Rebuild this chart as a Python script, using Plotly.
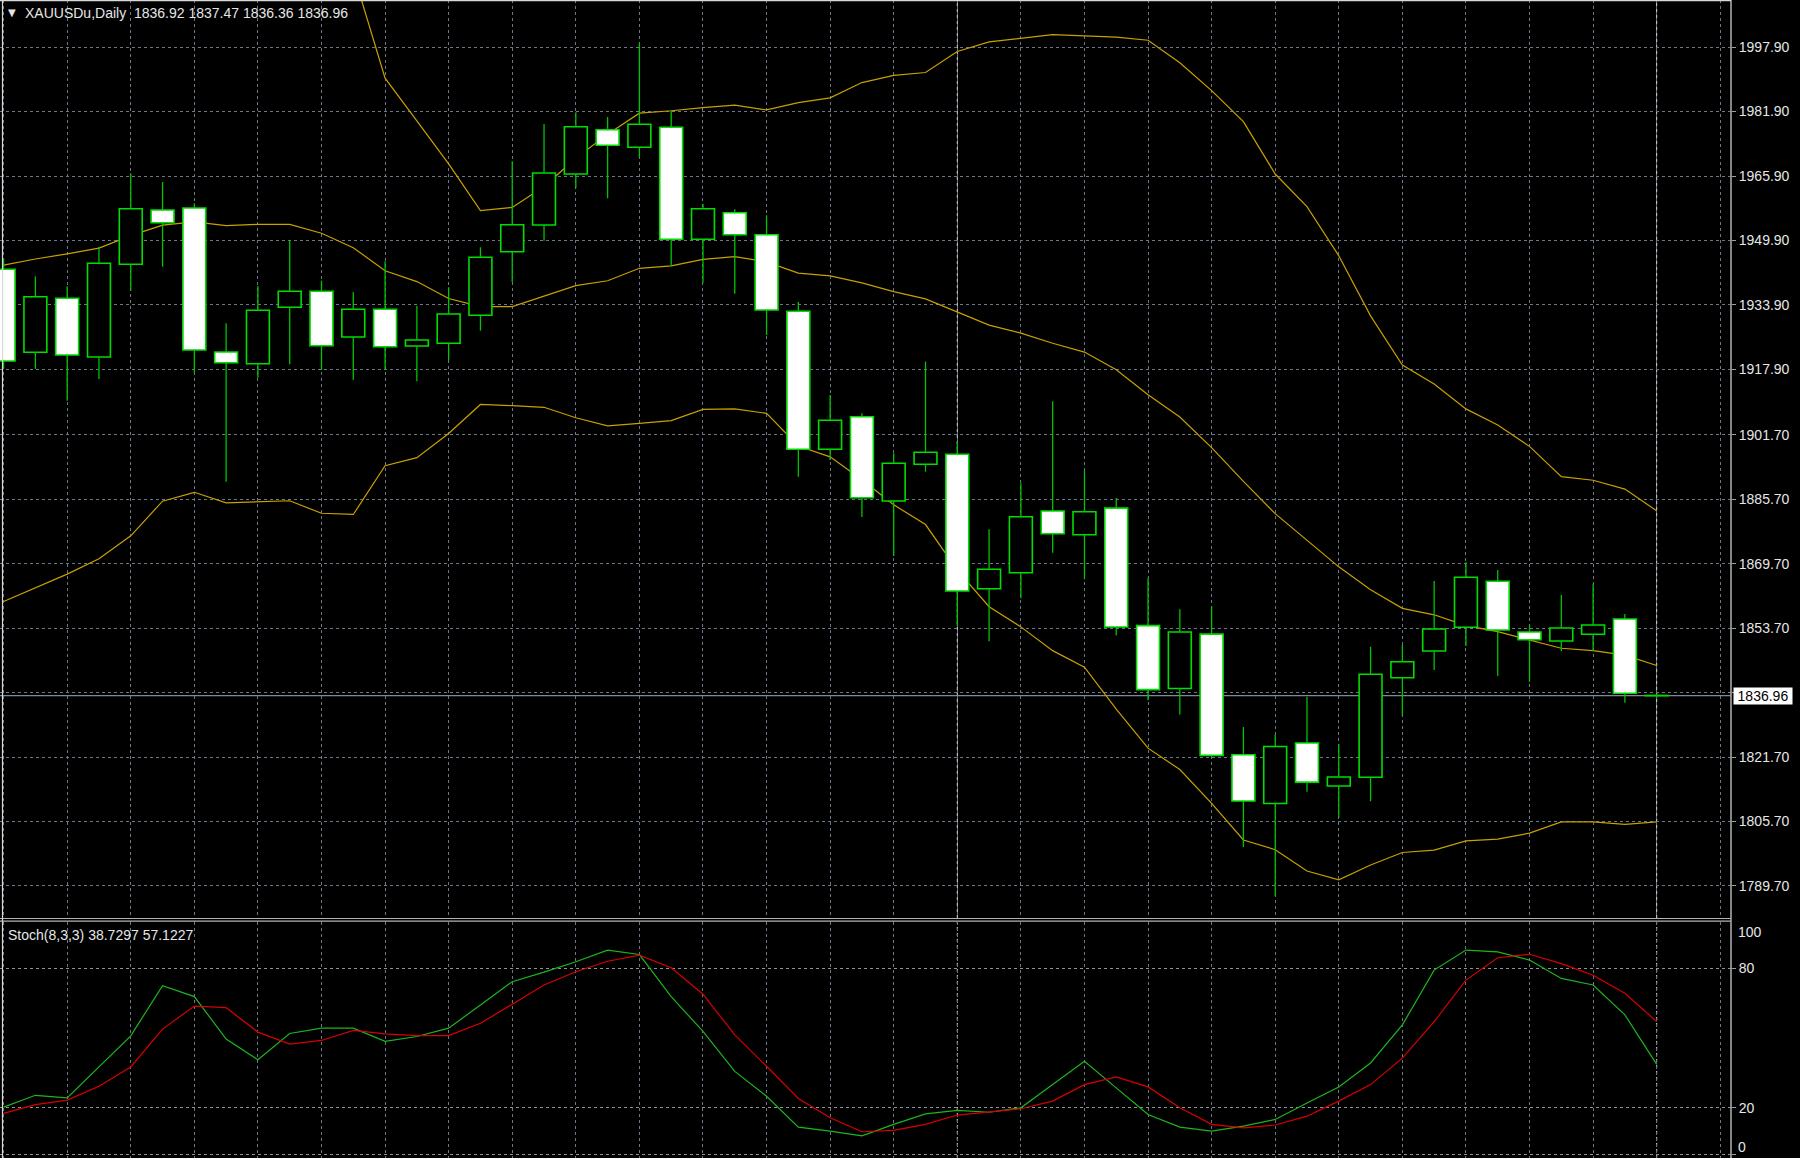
import plotly.graph_objects as go

# ---------------- data ----------------
opens = [1942.75, 1922.15, 1935.55, 1920.98, 1943.99, 1957.47, 1957.96, 1922.22, 1919.32, 1933.32,
         1937.29, 1925.95, 1932.82, 1923.71, 1924.38, 1931.33, 1947.12, 1953.75, 1966.40, 1977.40,
         1973.03, 1977.99, 1950.20, 1956.80, 1951.34, 1932.33, 1898.07, 1906.17, 1885.24, 1894.35,
         1896.83, 1863.47, 1867.45, 1882.76, 1876.88, 1883.48, 1854.32, 1838.70, 1852.21, 1822.27,
         1810.16, 1825.18, 1814.50, 1816.66, 1841.38, 1848.01, 1853.89, 1865.31, 1852.73, 1850.49,
         1852.16, 1855.95, 1836.92]
highs = [1945.48, 1941.00, 1938.53, 1948.36, 1966.58, 1964.42, 1959.13, 1929.35, 1938.60, 1950.02,
         1939.92, 1937.12, 1944.74, 1933.64, 1938.28, 1948.21, 1969.56, 1978.81, 1981.72, 1980.55,
         1998.99, 1982.11, 1958.96, 1957.64, 1956.15, 1934.63, 1911.55, 1907.01, 1897.08, 1919.84,
         1899.96, 1878.22, 1889.64, 1909.99, 1892.69, 1885.96, 1866.08, 1858.39, 1859.11, 1829.15,
         1827.31, 1836.67, 1824.85, 1849.08, 1849.50, 1865.39, 1870.03, 1868.12, 1854.47, 1861.91,
         1864.57, 1857.20, 1837.47]
lows = [1918.18, 1918.00, 1910.14, 1915.52, 1937.44, 1943.40, 1917.09, 1890.03, 1915.85, 1919.17,
        1917.76, 1915.27, 1917.76, 1914.95, 1920.24, 1927.51, 1939.60, 1949.85, 1962.85, 1960.37,
        1970.55, 1943.64, 1939.42, 1936.69, 1926.44, 1891.27, 1895.42, 1881.27, 1871.59, 1892.51,
        1854.22, 1850.42, 1861.09, 1872.41, 1865.81, 1851.86, 1835.78, 1832.25, 1821.50, 1799.39,
        1787.20, 1813.09, 1806.69, 1810.71, 1831.88, 1843.30, 1849.25, 1841.81, 1840.39, 1848.01,
        1848.01, 1835.18, 1836.36]
closes = [1919.99, 1935.95, 1921.48, 1944.24, 1957.79, 1954.32, 1922.72, 1919.57, 1932.57, 1937.29,
          1923.79, 1932.82, 1923.54, 1925.20, 1931.66, 1945.73, 1953.82, 1966.65, 1978.14, 1973.53,
          1978.74, 1950.20, 1957.79, 1951.34, 1932.65, 1898.07, 1905.27, 1886.06, 1894.60, 1897.33,
          1862.90, 1868.29, 1881.35, 1877.13, 1882.59, 1853.97, 1838.43, 1852.73, 1822.10, 1810.78,
          1824.31, 1815.47, 1816.74, 1842.23, 1845.36, 1853.47, 1866.30, 1853.22, 1850.82, 1853.72,
          1854.47, 1837.51, 1836.96]

bb_upper = [None, None, None, None, None, None, None, None, None, None,
            None, 2016.3, 1990.2, 1979.6, 1968.9, 1957.3, 1958.1, 1963.3, 1970.3, 1976.3,
            1981.5, 1982.1, 1982.9, 1983.5, 1982.3, 1984.1, 1985.3, 1989.1, 1990.9, 1991.6,
            1996.8, 1999.2, 2000.1, 2001.0, 2000.7, 2000.4, 1999.6, 1994.0, 1987.1, 1979.4,
            1966.4, 1958.3, 1946.1, 1931.2, 1919.0, 1914.3, 1908.1, 1904.1, 1898.8, 1891.3,
            1890.4, 1888.2, 1882.8]
bb_middle = [1943.8, 1945.3, 1946.6, 1948.0, 1951.1, 1953.7, 1954.5, 1953.6, 1953.9, 1953.9,
             1951.7, 1948.1, 1942.4, 1939.7, 1935.5, 1933.5, 1933.5, 1936.1, 1938.7, 1939.9,
             1943.0, 1943.6, 1945.2, 1945.9, 1944.6, 1941.8, 1941.1, 1939.4, 1937.2, 1935.4,
             1932.2, 1928.9, 1926.9, 1924.4, 1922.2, 1917.8, 1911.6, 1906.1, 1898.5, 1890.1,
             1882.1, 1875.5, 1868.9, 1863.2, 1858.6, 1857.0, 1854.3, 1852.8, 1850.7, 1848.7,
             1848.1, 1847.0, 1844.4]
bb_lower = [1860.3, 1863.7, 1867.1, 1870.9, 1876.6, 1885.2, 1887.4, 1884.8, 1885.1, 1885.3,
            1882.2, 1881.9, 1894.0, 1896.0, 1902.0, 1909.2, 1908.9, 1908.5, 1905.9, 1903.9,
            1904.5, 1905.2, 1908.0, 1908.1, 1907.0, 1898.9, 1896.2, 1890.5, 1884.3, 1879.4,
            1868.1, 1859.0, 1854.0, 1848.1, 1844.0, 1833.6, 1823.9, 1818.6, 1810.2, 1801.1,
            1798.7, 1793.4, 1791.2, 1794.9, 1798.0, 1798.6, 1800.9, 1801.3, 1802.8, 1805.6,
            1805.6, 1805.0, 1805.6]

stoch_main = [20.3, 25.4, 24.3, 37.5, 51.0, 72.6, 67.9, 49.6, 40.7, 52.0,
              54.3, 54.3, 48.6, 50.7, 54.3, 64.3, 74.3, 78.4, 82.9, 87.9,
              86.0, 67.9, 52.9, 35.7, 25.0, 11.7, 10.0, 7.9, 12.9, 17.4,
              18.9, 18.1, 20.0, 30.0, 40.0, 28.6, 17.1, 11.7, 10.0, 12.1,
              15.0, 22.1, 29.0, 39.3, 55.7, 79.3, 87.9, 87.1, 83.6, 75.7,
              72.9, 60.0, 38.7297]
stoch_signal = [17.6, 21.4, 23.3, 29.3, 37.6, 53.9, 63.8, 63.1, 52.6, 47.4,
                49.0, 53.3, 51.8, 51.1, 51.1, 56.4, 64.6, 72.9, 78.6, 83.1,
                85.7, 80.3, 68.9, 51.4, 37.9, 24.0, 15.7, 9.7, 10.3, 12.9,
                16.9, 18.3, 19.6, 22.9, 30.0, 33.3, 29.0, 20.0, 12.9, 11.4,
                12.6, 16.4, 22.9, 30.0, 41.4, 57.1, 75.0, 84.6, 86.1, 82.1,
                77.1, 69.3, 57.1227]

price_ticks = [1997.9, 1981.9, 1965.9, 1949.9, 1933.9, 1917.9, 1901.7,
               1885.7, 1869.7, 1853.7, 1837.7, 1821.7, 1805.7, 1789.7]
price_tick_text = ["1997.90", "1981.90", "1965.90", "1949.90", "1933.90", "1917.90", "1901.70",
                   "1885.70", "1869.70", "1853.70", "", "1821.70", "1805.70", "1789.70"]
stoch_ticks = [80, 20, 0]
stoch_tick_text = ["80", "20", ""]
period_separators = [30, 52]
last_price = 1836.96
title_text = "XAUUSDu,Daily\u00a0\u00a01836.92 1837.47 1836.36 1836.96"
stoch_text = "Stoch(8,3,3) 38.7297 57.1227"

# ---------------- geometry / style ----------------
W, H = 1800, 1158
AX_X = 1731 / W                     # right price-axis line
MAIN_DOM = [1 - 918 / H, 1.0]
STOCH_DOM = [0.0, 1 - 922 / H]
X_RANGE = [-0.1132, 54.338]
GRID = "#6a7788"
GREEN = "#00dd00"
FONT = "Liberation Sans, Arial, sans-serif"
TXT = "#e6e6e6"
BAND = "#c8a000"

idx = list(range(len(opens)))

fig = go.Figure()

# Bollinger bands (base layer, below candles)
for band in (bb_upper, bb_middle, bb_lower):
    fig.add_trace(go.Scatter(x=idx, y=band, mode="lines", xaxis="x", yaxis="y",
                             line=dict(color=BAND, width=1.2), hoverinfo="skip",
                             connectgaps=False, showlegend=False))

# Candle wicks (upper and lower parts, overlay layer)
wx, wy = [], []
for i, o, h, l, c in zip(idx, opens, highs, lows, closes):
    top, bot = max(o, c), min(o, c)
    wx += [i, i, None, i, i, None]
    wy += [h, top, None, bot, l, None]
fig.add_trace(go.Scatter(x=wx, y=wy, mode="lines", xaxis="x3", yaxis="y3",
                         line=dict(color="#00c400", width=1.3), hoverinfo="skip",
                         showlegend=False))

# Candle bodies
bases = [min(o, c) for o, c in zip(opens, closes)]
heights = [max(abs(c - o), 0.06) for o, c in zip(opens, closes)]
fills = ["#000000" if c >= o else "#ffffff" for o, c in zip(opens, closes)]
fig.add_trace(go.Bar(x=idx, y=heights, base=bases, xaxis="x3", yaxis="y3", width=0.72,
                     marker=dict(color=fills, line=dict(color=GREEN, width=1.6)),
                     hoverinfo="skip", showlegend=False))

# Stochastic
fig.add_trace(go.Scatter(x=idx, y=stoch_main, mode="lines", xaxis="x2", yaxis="y2",
                         line=dict(color="#1db51d", width=1.2), showlegend=False))
fig.add_trace(go.Scatter(x=idx, y=stoch_signal, mode="lines", xaxis="x2", yaxis="y2",
                         line=dict(color="#d80000", width=1.2), showlegend=False))

grid_ticks = list(range(0, 56, 2))
xcommon = dict(range=X_RANGE, domain=[0, AX_X], tickvals=grid_ticks, showticklabels=False,
               showgrid=True, gridcolor=GRID, griddash="3px,3px", gridwidth=1,
               zeroline=False, showline=False, ticks="", fixedrange=True)
main_range = [2009.59 - 918 * 0.2482, 2009.59]

fig.update_layout(
    width=W, height=H,
    paper_bgcolor="#000000", plot_bgcolor="#000000",
    margin=dict(l=0, r=0, t=0, b=0, autoexpand=False),
    barmode="overlay", showlegend=False,
    font=dict(family=FONT, color=TXT, size=14),
    xaxis=dict(anchor="y", **xcommon),
    yaxis=dict(domain=MAIN_DOM, range=main_range, anchor="x", side="right",
               tickvals=price_ticks, ticktext=price_tick_text,
               showgrid=True, gridcolor=GRID, griddash="3px,3px", gridwidth=1,
               zeroline=False, showline=False, ticks="outside", ticklen=4,
               tickcolor="#a0a0a0", tickfont=dict(family=FONT, size=14, color=TXT),
               fixedrange=True),
    xaxis2=dict(anchor="y2", **xcommon),
    yaxis2=dict(domain=STOCH_DOM, range=[-1.6, 100], anchor="x2", side="right",
                tickvals=stoch_ticks, ticktext=stoch_tick_text,
                showgrid=True, gridcolor="#8c939c", griddash="3px,3px", gridwidth=1,
                zeroline=False, showline=False, ticks="outside", ticklen=4,
                tickcolor="#a0a0a0", tickfont=dict(family=FONT, size=14, color=TXT),
                fixedrange=True),
    xaxis3=dict(overlaying="x", anchor="y3", range=X_RANGE, visible=False, fixedrange=True),
    yaxis3=dict(overlaying="y", anchor="x3", range=main_range, visible=False, fixedrange=True),
)

shapes = []
# period separators (monthly) across both panels
for s in period_separators:
    shapes.append(dict(type="line", xref="x", yref="paper", x0=s, x1=s,
                       y0=MAIN_DOM[0], y1=1, layer="below",
                       line=dict(color="#e0e0e0", width=1, dash="3px,3px")))
    shapes.append(dict(type="line", xref="x2", yref="paper", x0=s, x1=s,
                       y0=0, y1=STOCH_DOM[1], layer="below",
                       line=dict(color="#e0e0e0", width=1, dash="3px,3px")))
# current price line
shapes.append(dict(type="line", xref="paper", yref="y", x0=0, x1=AX_X,
                   y0=last_price, y1=last_price, layer="below",
                   line=dict(color="#7d8996", width=1.2)))
# panel separator (double line)
for py in (918.5, 921.2):
    shapes.append(dict(type="line", xref="paper", yref="paper", x0=0, x1=AX_X,
                       y0=1 - py / H, y1=1 - py / H, line=dict(color="#b4b4b4", width=1.2)))
# right axis line, left and top border
shapes.append(dict(type="line", xref="paper", yref="paper", x0=AX_X, x1=AX_X, y0=0, y1=1,
                   line=dict(color="#a8a8a8", width=1.6)))
shapes.append(dict(type="line", xref="paper", yref="paper", x0=2.5 / W, x1=2.5 / W, y0=0, y1=1,
                   line=dict(color="#d8d8d8", width=1.2)))
shapes.append(dict(type="line", xref="paper", yref="paper", x0=0, x1=AX_X,
                   y0=1 - 0.6 / H, y1=1 - 0.6 / H, line=dict(color="#d8d8d8", width=1.2)))
fig.update_layout(shapes=shapes)

annotations = [
    dict(text="\u25bc", xref="paper", yref="paper", x=6 / W, y=1 - 12 / H,
         xanchor="left", yanchor="middle", showarrow=False,
         font=dict(family="DejaVu Sans", size=10, color=TXT)),
    dict(text=title_text, xref="paper", yref="paper", x=23 / W, y=1 - 12.5 / H,
         xanchor="left", yanchor="middle", showarrow=False,
         font=dict(family=FONT, size=14, color=TXT)),
    dict(text=stoch_text, xref="paper", yref="paper", x=6 / W, y=1 - 935 / H,
         xanchor="left", yanchor="middle", showarrow=False,
         font=dict(family=FONT, size=14, color=TXT)),
    dict(text=f"{last_price:.2f}", xref="paper", yref="y", x=1733 / W, y=last_price,
         xanchor="left", yanchor="middle", showarrow=False, bgcolor="#ffffff",
         width=58, height=16, borderpad=0, align="center",
         font=dict(family=FONT, size=14, color="#000000")),
    dict(text="100", xref="paper", yref="paper", x=1736 / W, y=1 - 932 / H,
         xanchor="left", yanchor="middle", showarrow=False,
         font=dict(family=FONT, size=14, color=TXT)),
    dict(text="0", xref="paper", yref="paper", x=1736 / W, y=1 - 1147 / H,
         xanchor="left", yanchor="middle", showarrow=False,
         font=dict(family=FONT, size=14, color=TXT)),
]
fig.update_layout(annotations=annotations)

fig.write_html("out.html", config={"displayModeBar": False},
               post_script="document.body.style.margin='0';document.body.style.overflow='hidden';")
